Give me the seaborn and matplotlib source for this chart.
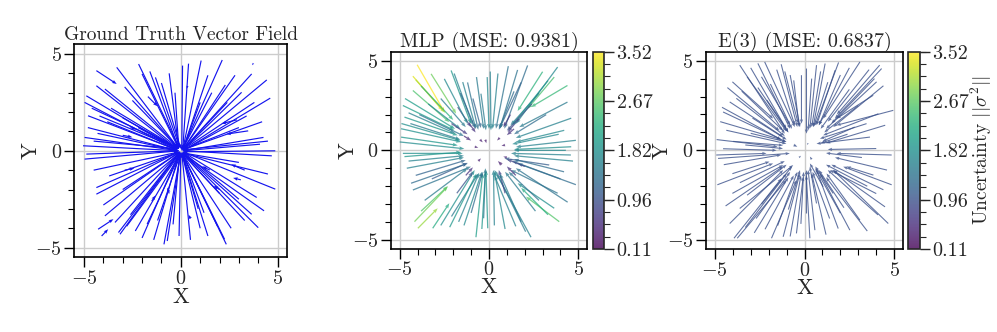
import numpy as np
import matplotlib
matplotlib.use("Agg")
import matplotlib.pyplot as plt
import seaborn as sns
from matplotlib.ticker import MultipleLocator, FixedLocator
from matplotlib.colors import Normalize

# ---------------- data ----------------
# Ground truth arrows: start (x0, y0) -> end (x1, y1)
gt_x0 = [-3.31, -2.18, -1.31, -4.36, -4.88, -4.97, -3.92, -4.79, -4.80, -4.97, -5.05, -2.00, -2.50, -1.00, -3.80, -4.30,
         -4.36, -1.70, -3.00,
         0.09, 1.05, 2.14, 3.66, 4.44, 4.62, 3.14, 4.27, 4.88, 4.09, 2.40, 1.60, 3.40, 3.48, 2.90, 3.75, 0.35,
         -4.88, -4.97, -4.36, -4.36, -3.92, -3.22, -3.14, -2.35, -1.74, -0.87, -0.70, -0.09, -2.80, -1.20,
         -4.27, -4.09, -1.50, -2.90,
         2.35, 2.26, 4.00, 3.66, 3.92, 4.88, 4.70, 1.90, 1.20, 3.00, 0.90, 3.30, 3.10, 1.50,
         -4.6, -3.6, -2.9, -1.6, -0.6, -4.2, -3.0, -4.5, -2.2, -0.3,
         0.4, 1.4, 2.8, 3.8, 4.2, 2.3, 3.0, 4.5, 1.0,
         -4.5, -3.7, -4.0, -3.4, -2.6, -2.0, -1.4, -0.4, -3.0,
         0.5, 1.4, 2.6, 3.3, 4.3, 4.5, 3.0, 2.0, 1.0,
         -0.6, 0.5, 2.0, -2.6]
gt_y0 = [4.31, 4.48, 3.79, 3.36, 2.84, 2.50, 3.19, 1.81, 1.20, 0.69, 0.26, 3.97, 2.60, 3.50, 1.50, 0.90,
         4.14, 2.80, 0.80,
         4.40, 4.66, 4.69, 3.97, 3.66, 2.72, 3.02, 0.69, 0.00, 0.34, 2.50, 3.00, 1.80, 1.03, 1.60, 4.52, 3.35,
         -0.17, -0.43, -1.90, -2.24, -3.36, -4.22, -4.31, -4.14, -3.79, -4.83, -4.66, -4.40, -3.90, -3.60,
         -4.05, -4.40, -2.60, -1.00,
         -4.83, -4.57, -3.97, -3.28, -2.41, -1.98, -0.26, -3.90, -3.20, -2.50, -3.00, -1.00, -1.50, -1.00,
         2.2, 2.2, 3.3, 4.1, 4.0, 1.8, 1.7, 0.5, 1.2, 3.0,
         4.5, 3.9, 3.9, 2.5, 1.5, 3.4, 1.2, 0.5, 2.5,
         -1.0, -1.3, -2.8, -3.7, -3.3, -4.5, -4.6, -3.8, -2.0,
         -4.6, -4.4, -4.0, -3.6, -3.1, -1.2, -0.6, -2.2, -4.0,
         -2.2, -3.5, -2.0, 1.2]
gt_x1 = [-0.15, -0.10, -0.05, -0.20, -0.20, -0.15, -0.10, -0.20, -0.15, -0.10, -0.10, -0.10, -0.10, 0.00, -0.10, -0.10,
         -3.31, -1.20, -2.50,
         0.05, 0.10, 0.10, 0.10, 0.10, 0.10, 0.05, 0.10, 0.10, 0.10, 0.10, 0.10, 0.10, 2.35, 2.10, 3.68, 0.30,
         -0.10, -0.10, -0.10, -0.10, -0.05, -0.05, -0.05, 0.00, 0.00, 0.00, 0.00, 0.00, 0.00, 0.00,
         -3.48, -3.75, -1.30, -2.40,
         0.05, 0.05, 0.10, 0.10, 0.10, 0.10, 0.10, 0.05, 0.05, 0.10, 0.05, 2.60, 2.70, 1.10,
         -0.1, -0.1, -0.1, -0.1, -0.1, -0.1, -0.1, -0.1, -0.1, -0.1,
         0.1, 0.1, 0.1, 0.1, 0.1, 0.1, 0.1, 0.1, 0.1,
         -0.05, -0.05, -0.05, -0.05, -0.05, -0.05, -0.05, -0.05, -0.05,
         0.05, 0.05, 0.05, 0.05, 0.05, 0.05, 0.05, 0.05, 0.05,
         -0.7, 0.4, 1.7, -2.3]
gt_y1 = [0.15, 0.20, 0.15, 0.10, 0.05, 0.00, 0.10, 0.05, 0.00, 0.00, 0.00, 0.10, 0.10, 0.10, 0.00, 0.00,
         3.45, 2.30, 0.70,
         0.00, 0.05, 0.10, 0.05, 0.05, 0.00, 0.00, 0.00, -0.05, 0.00, 0.05, 0.10, 0.00, 0.86, 1.40, 4.42, 3.20,
         0.00, 0.00, -0.05, -0.05, -0.10, -0.10, -0.05, -0.10, -0.10, -0.10, -0.05, -0.10, -0.10, -0.10,
         -3.53, -4.05, -2.30, -0.90,
         -0.10, -0.10, -0.10, -0.10, -0.05, -0.05, 0.00, -0.10, -0.10, -0.05, -0.10, -0.70, -1.40, -0.80,
         0.1, 0.1, 0.1, 0.1, 0.1, 0.1, 0.1, 0.1, 0.1, 0.1,
         0.05, 0.05, 0.05, 0.05, 0.05, 0.05, 0.05, 0.05, 0.05,
         -0.05, -0.05, -0.05, -0.05, -0.05, -0.05, -0.05, -0.05, -0.05,
         -0.1, -0.1, -0.1, -0.1, -0.1, -0.1, -0.1, -0.1, -0.1,
         -1.9, -3.3, -1.8, 1.1]

# MLP predicted arrows and their uncertainty
mlp_x0 = [-4.02, -4.26, -4.10, -3.24, -4.26, -4.82, -4.73, -4.92, -4.92, -5.00, -4.50, -4.40, -2.12, -1.95, -1.47, -1.20,
          -0.45, -0.90, -2.70, -3.40, -1.75, -2.10, -0.50, -0.80,
          0.07, -0.10, 1.08, 2.16, 3.84, 3.65, 4.39, 4.39, 4.21, 4.86, 4.60, 3.90, 1.80, 1.40, 2.80, 3.20, 1.69, 1.20,
          0.60, 0.90, -0.20,
          -4.82, -4.73, -4.50, -4.36, -4.26, -4.17, -3.98, -3.80, -3.15, -2.70, -2.10, -0.73, -0.07, -1.40, -1.00,
          -3.20, -0.60,
          0.30, 2.35, 2.05, 1.50, 3.84, 4.86, 4.58, 3.93, 3.65, 3.37, 4.20, 2.80, 0.90, 0.70, 1.00,
          -3.8, -2.5, -0.7, -1.6, -4.7, -4.9, -3.9, -1.1, -1.4,
          0.5, 1.6, 3.3, 3.0, 4.6, 4.3, 2.4, 1.4,
          -4.6, -4.1, -3.6, -2.2, -1.7, -0.4, -0.3, -1.3, -1.8,
          0.9, 1.8, 2.6, 4.4, 4.0, 4.7, 1.5, 3.3, 2.0]
mlp_y0 = [4.79, 4.15, 3.95, 4.28, 3.35, 2.51, 1.86, 1.21, 0.74, 0.47, 2.10, 1.50, 4.47, 4.30, 3.82, 3.80,
          3.17, 2.90, 2.90, 2.60, 2.42, 1.50, 0.60, 0.20,
          4.41, 4.10, 4.71, 4.75, 4.66, 4.10, 3.63, 2.70, 1.12, 0.56, 0.20, 0.90, 3.80, 3.30, 3.20, 2.00, 1.77, 2.00,
          0.70, 0.30, 0.60,
          -0.17, -0.35, -0.60, -1.84, -2.22, -3.99, -4.36, -3.40, -4.36, -4.20, -3.70, -4.86, -4.36, -4.20, -3.50,
          -1.60, -0.60,
          -4.20, -4.86, -4.55, -4.25, -2.40, -1.92, -0.26, -3.99, -3.24, -0.82, -1.20, -2.80, -2.40, -0.80, -0.40,
          3.6, 4.0, 4.1, 3.2, 2.9, 1.5, 2.0, 1.5, 0.8,
          4.3, 4.5, 3.9, 4.4, 1.8, 0.0, 2.6, 1.2,
          -1.0, -1.4, -2.8, -4.3, -4.0, -4.4, -3.8, -1.4, -2.4,
          -4.4, -4.0, -3.4, -2.9, -1.6, -0.6, -1.4, -3.6, -0.9]
mlp_x1 = [-2.49, -2.59, -2.45, -1.84, -2.22, -1.94, -1.75, -1.56, -1.75, -1.38, -1.90, -1.60, -1.01, -0.90, -0.73, -0.60,
          -0.17, -0.45, -1.30, -1.60, -1.01, -1.20, -0.35, -0.60,
          0.11, 0.00, 0.39, 0.86, 1.51, 2.16, 2.35, 1.69, 1.51, 1.51, 1.40, 1.30, 0.60, 0.55, 1.20, 1.40, 1.04, 0.80,
          0.45, 0.70, -0.15,
          -1.47, -1.56, -1.40, -1.19, -1.01, -2.31, -2.87, -2.30, -2.22, -0.80, -0.60, -0.35, -0.17, -0.40, -0.35,
          -1.20, -0.45,
          0.25, 0.30, 0.45, 0.30, 1.23, 1.60, 1.23, 2.07, 1.60, 0.86, 1.40, 1.10, 0.55, 0.50, 0.80,
          -2.0, -1.2, -0.3, -0.75, -1.9, -1.6, -1.4, -0.75, -1.0,
          0.2, 0.6, 1.3, 1.6, 1.5, 1.4, 1.0, 1.0,
          -1.4, -1.3, -1.2, -0.7, -0.55, -0.2, -0.2, -0.9, -0.9,
          0.3, 0.6, 0.9, 1.5, 1.3, 1.4, 1.0, 1.8, 1.0]
mlp_y1 = [2.14, 2.23, 2.10, 2.05, 1.58, 1.12, 0.84, 0.47, 0.28, 0.09, 0.95, 0.60, 1.49, 1.40, 1.21, 1.15,
          1.12, 1.25, 1.30, 1.20, 1.30, 0.90, 0.45, 0.15,
          1.12, 1.20, 1.21, 1.21, 1.49, 2.33, 2.42, 1.30, 0.47, 0.19, 0.05, 0.35, 1.25, 1.15, 1.40, 0.90, 1.02, 1.30,
          0.55, 0.25, 0.40,
          -0.17, -0.10, -0.30, -0.73, -0.91, -2.03, -3.24, -2.00, -2.96, -1.10, -1.30, -1.28, -1.10, -1.20, -1.20,
          -0.70, -0.45,
          -1.10, -1.10, -1.30, -1.40, -1.10, -0.73, -0.17, -2.59, -1.84, -0.45, -0.50, -1.20, -1.10, -0.60, -0.35,
          1.7, 1.5, 1.2, 1.2, 1.2, 0.55, 0.8, 1.0, 0.55,
          1.2, 1.2, 1.4, 2.2, 0.7, 0.0, 1.1, 0.85,
          -0.4, -0.55, -1.0, -1.3, -1.25, -1.2, -1.0, -0.95, -1.2,
          -1.2, -1.3, -1.2, -1.0, -0.6, -0.3, -0.9, -2.1, -0.5]
mlp_sigma = [3.52, 3.35, 3.10, 2.75, 2.55, 2.00, 1.90, 1.80, 1.90, 1.75, 1.60, 1.50, 1.90, 1.60, 1.60, 1.40,
             1.50, 1.20, 1.50, 1.70, 0.80, 0.70, 0.40, 0.40,
             1.60, 1.70, 1.40, 1.30, 1.70, 2.50, 2.40, 1.50, 1.70, 1.60, 1.80, 1.70, 1.20, 1.30, 1.50, 1.30, 0.70, 0.60,
             0.40, 0.40, 0.35,
             1.80, 1.90, 1.60, 1.30, 1.40, 2.80, 3.00, 2.60, 2.20, 1.80, 1.50, 2.00, 1.90, 1.70, 1.30,
             1.10, 0.40,
             1.60, 1.60, 1.50, 1.60, 1.40, 1.30, 1.60, 2.60, 1.80, 1.10, 1.30, 1.40, 0.80, 0.40, 0.45,
             2.3, 1.7, 1.5, 1.2, 2.0, 1.8, 1.4, 0.6, 0.5,
             1.6, 1.4, 1.9, 2.3, 1.6, 1.7, 1.0, 0.6,
             1.6, 1.2, 1.5, 1.9, 1.6, 1.9, 1.5, 0.6, 1.0,
             1.7, 1.5, 1.5, 1.4, 1.3, 1.6, 0.6, 2.2, 0.8]

# E(3) predicted arrows and their uncertainty
e3_x0 = [-3.61, -2.60, -2.22, -4.54, -4.17, -4.02, -3.20, -1.55, -1.10, -0.17, -4.36, -4.54, -3.98, -3.00, -3.50,
         -2.60, -1.90, -0.60, -4.70, -2.10,
         0.11, 0.67, 1.15, 1.71, 3.09, 4.19, 4.30, 4.02, 3.83, 4.95, 4.12, 3.46, 3.65, 2.50, 2.00, 3.00, 1.30, 2.40,
         -4.92, -4.82, -4.86, -4.02, -4.02, -4.17, -3.93, -3.75, -3.61, -1.84, -1.19, -0.45, 0.11, -2.70, -2.20,
         -3.20, -0.90,
         0.58, 0.67, 1.88, 2.53, 3.09, 4.67, 4.86, 3.84, 4.86, 4.00, 4.49, 2.00, 1.40, 3.50, 1.04,
         -0.60, 0.40, 0.20, -0.30,
         -3.0, -4.3, -4.6, -3.8, -1.3, -0.8, -2.9, -4.9, -3.3, -2.4,
         0.4, 0.9, 1.9, 2.5, 3.6, 3.9, 4.4, 4.5, 4.0, 2.8,
         -4.5, -4.4, -3.3, -2.8, -2.4, -1.5, -0.8, -0.2, -3.6,
         0.3, 1.2, 2.2, 3.5, 4.1, 4.4, 3.2, 4.6, 1.6]
e3_y0 = [4.75, 4.85, 4.93, 2.14, 2.70, 3.82, 4.10, 4.50, 4.40, 4.19, 1.12, 0.09, 0.50, 0.95, 3.30,
         3.50, 3.70, 3.90, 1.60, 2.80,
         4.56, 4.75, 4.84, 4.47, 4.93, 4.75, 4.56, 3.82, 3.07, 2.23, 2.04, 1.49, 0.74, 3.40, 4.20, 2.50, 3.80, 0.90,
         -0.26, -0.45, -1.92, -1.30, -2.40, -4.08, -4.90, -4.90, -3.24, -4.90, -4.82, -4.63, -3.52, -3.80, -4.40,
         -2.50, -3.30,
         -4.45, -2.96, -4.36, -4.45, -3.89, -4.08, -1.92, -1.38, -0.26, -2.41, -3.15, -3.50, -3.80, -2.00, -2.03,
         0.30, -0.50, 0.40, -0.40,
         4.6, 3.5, 2.4, 2.9, 4.8, 4.2, 1.8, 0.6, 0.3, 4.1,
         4.0, 4.4, 4.9, 4.6, 4.5, 4.0, 3.6, 1.4, 0.1, 1.3,
         -0.8, -3.1, -4.3, -4.6, -3.0, -4.2, -4.8, -4.1, -1.8,
         -4.9, -4.7, -3.2, -4.5, -3.6, -2.2, -0.4, -1.1, -2.4]
e3_x1 = [-1.10, -0.80, -0.54, -1.01, -1.20, -1.75, -1.01, -0.54, -0.35, -0.17, -1.01, -1.56, -1.20, -1.01, -1.20,
         -0.90, -0.70, -0.30, -1.30, -1.00,
         0.11, 0.30, 0.48, 0.67, 1.04, 1.80, 1.69, 1.20, 1.79, 1.79, 1.04, 0.86, 0.67, 0.90, 0.80, 1.10, 0.50, 0.90,
         -2.12, -0.82, -1.75, -1.95, -1.19, -1.19, -1.28, -1.01, -0.63, -0.45, -0.26, -0.07, 0.11, -0.80, -0.60,
         -1.00, -0.25,
         0.20, 0.30, 0.67, 0.86, 1.23, 1.60, 2.16, 2.35, 1.79, 1.42, 1.60, 0.60, 0.45, 1.20, 0.30,
         -0.40, 0.30, 0.15, -0.20,
         -0.9, -1.4, -1.3, -1.1, -0.4, -0.25, -1.0, -1.5, -1.2, -0.8,
         0.2, 0.4, 0.6, 0.8, 1.3, 1.5, 1.6, 1.2, 1.3, 1.0,
         -1.3, -1.2, -1.0, -0.9, -0.7, -0.4, -0.2, -0.05, -1.1,
         0.1, 0.4, 0.8, 1.2, 1.3, 1.5, 1.2, 1.7, 0.6]
e3_y1 = [0.93, 1.20, 1.30, 0.47, 0.75, 1.77, 1.07, 1.40, 1.50, 1.49, 0.37, 0.00, 0.28, 0.47, 1.10,
         1.00, 1.20, 1.30, 0.60, 1.20,
         0.93, 1.21, 1.30, 1.40, 1.77, 2.00, 1.77, 1.20, 1.77, 1.40, 0.84, 0.65, 0.37, 1.20, 1.40, 1.00, 1.30, 0.40,
         -0.17, -0.17, -0.73, -0.63, -0.82, -1.10, -1.56, -1.65, -0.82, -1.66, -1.29, -1.47, -1.10, -1.20, -1.40,
         -0.80, -1.10,
         -1.10, -0.91, -1.10, -1.29, -1.29, -1.10, -0.91, -0.91, -0.17, -1.10, -1.10, -1.00, -1.20, -0.80, -0.73,
         0.20, -0.35, 0.30, -0.30,
         1.0, 1.1, 0.6, 0.8, 1.3, 1.3, 0.6, 0.2, 0.1, 1.4,
         1.1, 1.3, 1.4, 1.4, 1.6, 1.5, 1.3, 0.4, 0.05, 0.5,
         -0.25, -0.9, -1.3, -1.5, -0.9, -1.2, -1.4, -1.2, -0.6,
         -1.4, -1.3, -1.1, -1.5, -1.1, -0.8, -0.15, -0.4, -0.9]
e3_sigma = [0.96] * len(e3_x0)

panel_titles = ["Ground Truth Vector Field", "MLP (MSE: 0.9381)", "E(3) (MSE: 0.6837)"]
cbar_ticks = [0.11, 0.96, 1.82, 2.67, 3.52]
cbar_label = r"Uncertainty $||\sigma^2||$"
axis_ticks = [-5, 0, 5]

# ---------------- style ----------------
sns.set_theme(style="ticks")
plt.rcParams["font.family"] = ["serif"]
plt.rcParams["font.serif"] = ["cmr10", "DejaVu Serif"]
plt.rcParams["mathtext.fontset"] = "cm"
plt.rcParams["axes.formatter.use_mathtext"] = True
plt.rcParams["axes.unicode_minus"] = True

fig = plt.figure(figsize=(9.97, 3.32), dpi=100)
W, H = 997.0, 332.0

def box(l, t, r, b):
    return [l / W, 1 - b / H, (r - l) / W, (b - t) / H]

ax1 = fig.add_axes(box(74.3, 44.3, 287.3, 257.3))
ax2 = fig.add_axes(box(390.7, 51.7, 587.3, 249.0))
cax2 = fig.add_axes(box(592.7, 51.7, 604.0, 249.0))
ax3 = fig.add_axes(box(705.7, 51.7, 903.3, 249.0))
cax3 = fig.add_axes(box(908.0, 51.7, 920.0, 249.0))

norm = Normalize(vmin=0.11, vmax=3.52)
cmap = plt.get_cmap("viridis")

def style_axis(ax, title, ylab_x, title_size, xpad):
    ax.set_xlim(-5.5, 5.5)
    ax.set_ylim(-5.5, 5.5)
    ax.set_aspect("equal", adjustable="box")
    ax.set_xticks(axis_ticks)
    ax.set_yticks(axis_ticks)
    ax.xaxis.set_minor_locator(MultipleLocator(1))
    ax.yaxis.set_minor_locator(MultipleLocator(1))
    ax.tick_params(which="major", direction="out", length=7, width=1, labelsize=14.5, color="black", pad=2)
    ax.tick_params(which="minor", direction="out", length=4, width=0.8, color="black")
    ax.grid(True, which="major", color="#cccccc", linewidth=1.0)
    ax.set_axisbelow(True)
    for s in ax.spines.values():
        s.set_color("black")
        s.set_linewidth(1.2)
    ax.set_xlabel("X", fontsize=16, labelpad=xpad)
    ax.set_ylabel("Y", fontsize=16)
    ax.yaxis.set_label_coords(ylab_x, 0.5)
    ax.set_title(title, fontsize=title_size, pad=3)

def arrows(ax, x0, y0, x1, y1, c=None, color=None, width=0.005, alpha=1.0):
    x0 = np.asarray(x0); y0 = np.asarray(y0)
    u = np.asarray(x1) - x0
    v = np.asarray(y1) - y0
    kw = dict(angles="xy", scale_units="xy", scale=1, width=width,
              headwidth=3, headlength=4, headaxislength=3.5, alpha=alpha)
    if c is not None:
        return ax.quiver(x0, y0, u, v, np.asarray(c), cmap=cmap, norm=norm, **kw)
    return ax.quiver(x0, y0, u, v, color=color, **kw)

# Panel 1: ground truth
arrows(ax1, gt_x0, gt_y0, gt_x1, gt_y1, color="#1414ee", width=0.0055)
style_axis(ax1, panel_titles[0], -0.158, 14, 0)

# Panel 2: MLP
arrows(ax2, mlp_x0, mlp_y0, mlp_x1, mlp_y1, c=mlp_sigma, width=0.0065, alpha=0.75)
style_axis(ax2, panel_titles[1], -0.168, 14.5, -1)

# Panel 3: E(3)
arrows(ax3, e3_x0, e3_y0, e3_x1, e3_y1, c=e3_sigma, width=0.0055, alpha=0.8)
style_axis(ax3, panel_titles[2], -0.172, 14.5, -1)

sm = matplotlib.cm.ScalarMappable(norm=norm, cmap=cmap)
for cax, label in [(cax2, None), (cax3, cbar_label)]:
    cb = fig.colorbar(sm, cax=cax, alpha=0.8)
    cb.set_ticks(cbar_ticks)
    cb.set_ticklabels([f"{t:.2f}" for t in cbar_ticks])
    cb.ax.yaxis.set_minor_locator(FixedLocator(np.arange(0.11, 3.52, 0.2131)))
    cb.ax.tick_params(which="major", length=7, width=1, labelsize=14.5, pad=2)
    cb.ax.tick_params(which="minor", length=4, width=0.8)
    cb.outline.set_linewidth(1.2)
    if label:
        cb.set_label(label, fontsize=14)
        cb.ax.yaxis.set_label_coords(5.05, 0.5)

fig.savefig("out.png", dpi=100)
